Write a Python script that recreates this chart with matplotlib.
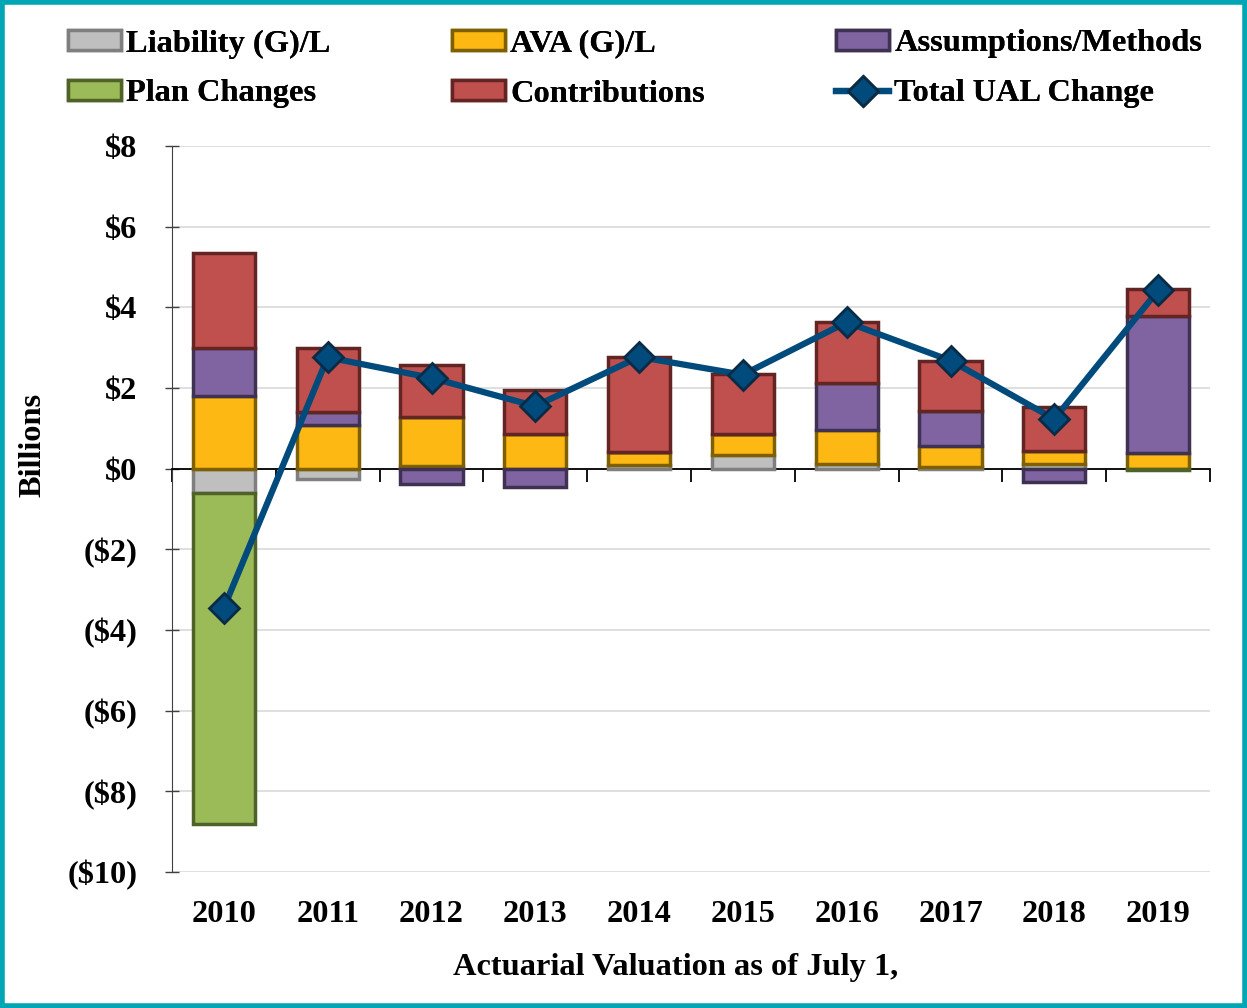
import matplotlib.pyplot as plt
import numpy as np
from matplotlib.patches import Rectangle

plt.rcParams['font.family'] = ['Liberation Serif', 'DejaVu Serif']
plt.rcParams['font.weight'] = 'bold'

# data (billions)
years = ['2010', '2011', '2012', '2013', '2014', '2015', '2016', '2017', '2018', '2019']
liability = [-0.60, -0.25, 0.06, 0.00, 0.08, 0.35, 0.12, 0.05, 0.12, 0.00]
ava = [1.80, 1.08, 1.22, 0.87, 0.33, 0.50, 0.84, 0.52, 0.33, 0.38]
assumptions = [1.20, 0.32, -0.38, -0.45, 0.00, 0.00, 1.17, 0.85, -0.32, 3.40]
plan_changes = [-8.20, 0.00, 0.00, 0.00, 0.00, 0.00, 0.00, 0.00, 0.00, -0.04]
contributions = [2.35, 1.58, 1.30, 1.09, 2.37, 1.49, 1.50, 1.25, 1.09, 0.68]
total_ual = [-3.45, 2.76, 2.25, 1.55, 2.77, 2.33, 3.63, 2.68, 1.23, 4.42]

series = [
    ('Liability (G)/L', liability, '#BFBFBF', '#7F7F7F'),
    ('AVA (G)/L', ava, '#FDB813', '#7F6000'),
    ('Assumptions/Methods', assumptions, '#8064A2', '#3F3151'),
    ('Plan Changes', plan_changes, '#9BBB59', '#4F6228'),
    ('Contributions', contributions, '#C0504D', '#632523'),
]
line_color = '#004A7C'
fs = 23.3

fig = plt.figure(figsize=(12.47, 10.08), dpi=100)
ax = fig.add_axes([172 / 1247, 136 / 1008, 1038 / 1247, 726 / 1008])

x = np.arange(len(years))
pos_base = np.zeros(len(years))
neg_base = np.zeros(len(years))
handles = {}
for name, vals, fc, ec in series:
    v = np.array(vals)
    bottoms = np.where(v >= 0, pos_base, neg_base)
    b = ax.bar(x, v, 0.6, bottom=bottoms, color=fc, edgecolor=ec, linewidth=2.5, zorder=3, label=name)
    handles[name] = b
    pos_base = pos_base + np.where(v > 0, v, 0)
    neg_base = neg_base + np.where(v < 0, v, 0)

ln, = ax.plot(x, total_ual, color=line_color, linewidth=4.5, marker='D', markersize=15,
              markerfacecolor=line_color, markeredgecolor='#0A2B45', markeredgewidth=2,
              zorder=5, label='Total UAL Change')
handles['Total UAL Change'] = ln

ax.set_xlim(-0.5, 9.5)
ax.set_ylim(-10, 8)
ax.set_yticks(np.arange(-10, 9, 2))
ax.set_yticklabels(['(${})'.format(-t) if t < 0 else '${}'.format(t) for t in range(-10, 9, 2)],
                   fontsize=fs, fontweight='bold')
ax.yaxis.grid(True, color='#D9D9D9', linewidth=1.2, zorder=0)
ax.set_axisbelow(True)
ax.tick_params(axis='y', length=10, width=1, pad=20, direction='inout', color='#404040')

ax.spines['top'].set_visible(False)
ax.spines['right'].set_visible(False)
ax.spines['left'].set_color('#404040')
ax.spines['bottom'].set_position(('data', 0))
ax.spines['bottom'].set_color('black')
ax.spines['bottom'].set_linewidth(1.3)
ax.set_xticks(x)
ax.set_xticklabels([])
ax.tick_params(axis='x', which='major', length=0)
ax.set_xticks(np.arange(-0.5, 10, 1), minor=True)
ax.tick_params(axis='x', which='minor', length=9, width=1.3, direction='out')

sec = ax.secondary_xaxis('bottom')
sec.set_xticks(x)
sec.set_xticklabels(years, fontsize=fs, fontweight='bold')
sec.tick_params(length=0, pad=20)
sec.spines['bottom'].set_visible(False)

fig.text(676 / 1247, 1 - 967 / 1008, 'Actuarial Valuation as of July 1,', fontsize=fs,
         fontweight='bold', ha='center', va='center')
fig.text(33 / 1247, 1 - 445 / 1008, 'Billions', fontsize=fs, fontweight='bold',
         rotation=90, ha='center', va='center')

# legend: 3 columns x 2 rows, fixed column starts like the original
legend_layout = [
    ('Liability (G)/L', 68, 44), ('AVA (G)/L', 452, 44), ('Assumptions/Methods', 836, 44),
    ('Plan Changes', 68, 94), ('Contributions', 452, 94), ('Total UAL Change', 836, 94),
]
for name, px, py in legend_layout:
    leg = fig.legend([handles[name]], [name], loc='center left',
                     bbox_to_anchor=(px / 1247, 1 - py / 1008), frameon=False, fontsize=fs,
                     handlelength=1.65, handleheight=0.55, handletextpad=0.15,
                     borderpad=0, borderaxespad=0)
    fig.add_artist(leg)

fig.patches.append(Rectangle((0.002, 0.002), 0.996, 0.996, transform=fig.transFigure,
                             fill=False, edgecolor='#00A6B4', linewidth=4))

fig.savefig('out.png', dpi=100)
